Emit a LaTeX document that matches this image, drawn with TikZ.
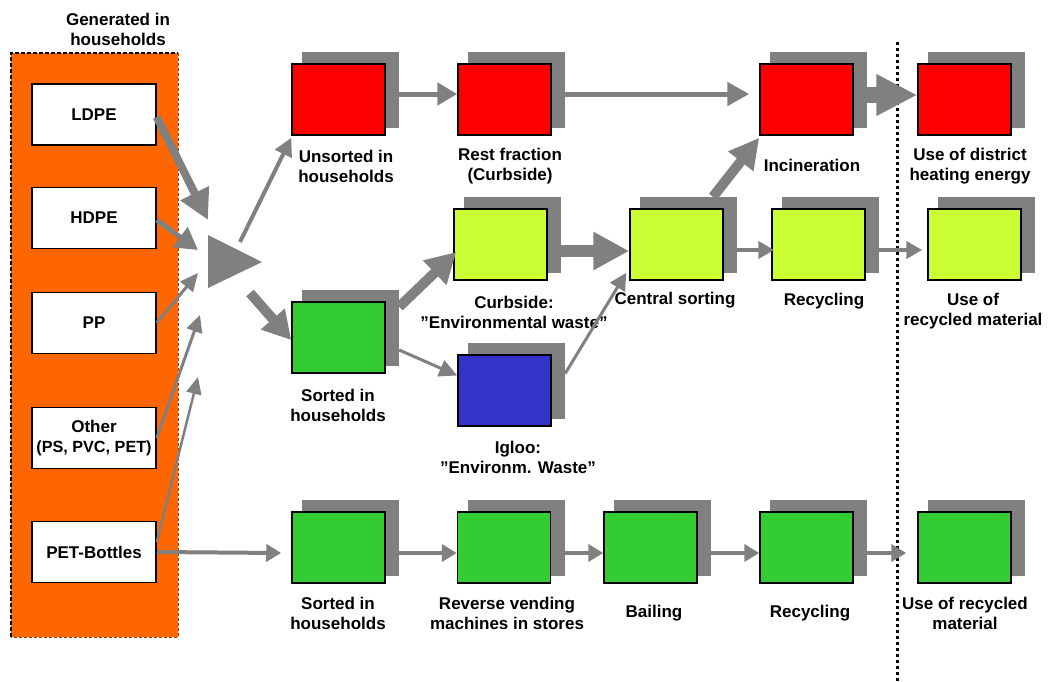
\documentclass[tikz,border=0pt]{standalone}
\usepackage{fontspec}
\setmainfont{Liberation Sans}
\usetikzlibrary{arrows.meta}
\definecolor{orng}{HTML}{FF6600}
\definecolor{shd}{HTML}{808080}
\definecolor{redc}{HTML}{FF0000}
\definecolor{yelc}{HTML}{CCFF33}
\definecolor{grnc}{HTML}{33CC33}
\definecolor{bluc}{HTML}{3333CC}
\newcommand\procbox[4]{%
  \node[sbox] (#1s) at (#2+12,#3-9.5) {};
  \node[pbox,fill=#4] (#1) at (#2,#3) {};}
\begin{document}
\begin{tikzpicture}[x=1pt,y=-1pt,
  font=\bfseries\fontsize{17}{20}\selectfont,
  pbox/.style={draw=black,line width=1.5pt,minimum width=93pt,minimum height=71pt,inner sep=0pt},
  sbox/.style={fill=shd,minimum width=97pt,minimum height=76pt,inner sep=0pt},
  wbox/.style={draw=black,line width=1.5pt,fill=white,minimum width=124pt,minimum height=61pt,inner sep=0pt,align=center},
  lbl/.style={align=center,inner sep=0pt},
  flow/.style n args={3}{color=shd,line width=#1,-{Triangle[length=#2,width=#3]}},
  divider/.style={black,line width=3pt,dash pattern=on 3pt off 3pt}
]
\useasboundingbox (0,0) rectangle (1049,681);

% orange panel
\fill[orng] (11,53) rectangle (178,637);
\draw[black,line width=2.5pt,dash pattern=on 4pt off 2pt] (11,637) -- (11,53) -- (178,53);
\draw[orng!60!black,line width=0.8pt,dash pattern=on 3pt off 2pt] (178,53) -- (178,637) -- (11,637);
\node[lbl] (gen) at (118,29) {Generated in\\households};

\node[wbox] (ld) at (94,114.5) {LDPE};
\node[wbox] (hd) at (94,218) {HDPE};
\node[wbox] (pp) at (94,323) {PP};
\node[wbox] (ot) at (94,438) {Other\\\makebox[118pt]{\fontsize{16.2}{20}\selectfont(PS, PVC, PET)}};
\node[wbox] (pb) at (94,552) {PET-Bottles};

% merge triangle
\fill[shd] (208,235) -- (208,288) -- (262,262) -- cycle;
\coordinate (in1) at (208,220);
\coordinate (in2) at (198,250);
\coordinate (in3) at (198,273);
\coordinate (in4) at (200,315);
\coordinate (in5) at (198,377);
\coordinate (out1) at (240,242);
\coordinate (out2) at (250,293);

% divider
\coordinate (dtop) at (897,42);
\coordinate (dbot) at (897,681);
\draw[divider] (dtop) -- (dbot);

% row 1
\procbox{us}{338.5}{99.5}{redc}
\procbox{rf}{504.5}{99.5}{redc}
\procbox{inc}{806.5}{99.5}{redc}
\procbox{dh}{964.5}{99.5}{redc}
% row 2
\procbox{cs}{500.5}{244.5}{yelc}
\procbox{ce}{676.5}{244.5}{yelc}
\procbox{rc}{818.5}{244.5}{yelc}
\procbox{ur}{974.5}{244.5}{yelc}
\procbox{sg}{338.5}{337.5}{grnc}
\procbox{ig}{504.5}{390.5}{bluc}
% row 3
\procbox{sth}{338.5}{547.5}{grnc}
\procbox{rv}{504}{547.5}{grnc}
\procbox{bl}{650.5}{547.5}{grnc}
\procbox{rt}{806.5}{547.5}{grnc}
\procbox{ut}{964.5}{547.5}{grnc}

% labels
\node[lbl] (l-us) at (346,166) {Unsorted in\\households};
\node[lbl] (l-rf) at (510,166) {Rest fraction\\(Curbside)};
\node[lbl] (l-inc) at (812,165) {Incineration};
\node[lbl] (l-dh) at (970,166) {Use of district\\heating energy};
\node[lbl] (l-cs) at (514,312) {Curbside:\\”Environmental waste”};
\node[lbl] (l-ce) at (675,300) {Central sorting};
\node[lbl] (l-rc) at (824,301) {Recycling};
\node[lbl] (l-ur) at (973,311) {Use of\\recycled material};
\node[lbl] (l-sg) at (338,405) {Sorted in\\households};
\node[lbl] (l-ig) at (518,457) {Igloo:\\”Environm. Waste”};
\node[lbl] (l-sth) at (338,613) {Sorted in\\households};
\node[lbl] (l-rv) at (507,613) {Reverse vending\\machines in stores};
\node[lbl] (l-bl) at (654,613) {Bailing};
\node[lbl] (l-rt) at (810,613) {Recycling};
\node[lbl] (l-ut) at (965,613) {Use of recycled\\material};

% inputs to merge
\draw[flow={8pt}{30pt}{30pt}] ([yshift=-2.5pt]ld.east) -- (in1);
\draw[flow={5pt}{22pt}{24pt}] ([yshift=-2pt]hd.east) -- (in2);
\draw[flow={3pt}{18pt}{16pt}] (pp.east) -- (in3);
\draw[flow={3pt}{17pt}{16pt}] (ot.east) -- (in4);
\draw[flow={2.5pt}{17pt}{15pt}] ([yshift=10pt]pb.east) -- (in5);

% outputs of merge
\draw[flow={4pt}{18pt}{18pt}] (out1) -- ([yshift=-2pt]us.south west);
\draw[flow={10pt}{28pt}{30pt}] (out2) -- ([yshift=-2.5pt]sg.west);

% row 1 flows
\draw[flow={5pt}{20pt}{22pt}] ([yshift=-4pt]uss.east) -- ([yshift=5.5pt]rf.west);
\draw[flow={5pt}{22pt}{23pt}] ([yshift=-4pt]rfs.east) -- ([xshift=-10pt,yshift=5.5pt]inc.west);
\draw[flow={16pt}{41pt}{39pt}] ([yshift=-5pt]incs.east) -- ([yshift=4.5pt]dh.west);

% row 2 flows
\draw[flow={10pt}{30pt}{32pt}] ([yshift=-17pt]sgs.north east) -- ([xshift=3pt,yshift=-7.5pt]cs.west);
\draw[flow={3pt}{18pt}{17pt}] ([yshift=-22pt]sgs.east) -- ([yshift=15pt]ig.west);
\draw[flow={3pt}{17pt}{17pt}] ([yshift=7.5pt]igs.east) -- ([xshift=-3pt,yshift=8pt]ce.south west);
\draw[flow={12pt}{36pt}{36pt}] ([yshift=-16pt]css.east) -- ([yshift=-6.5pt]ce.west);
\draw[flow={10pt}{30pt}{30pt}] ([xshift=24.5pt]ces.north) -- ([yshift=-2pt]inc.south west);
\draw[flow={4pt}{16pt}{17pt}] ([yshift=-15pt]ces.east) -- ([xshift=3pt,yshift=-5.5pt]rc.west);
\draw[flow={4pt}{16pt}{17pt}] ([yshift=-15pt]rcs.east) -- ([xshift=-5pt,yshift=-5.5pt]ur.west);

% row 3 flows
\draw[flow={4pt}{15pt}{17pt}] (pb.east) -- ([xshift=-10pt,yshift=-5.5pt]sth.west);
\draw[flow={4pt}{15pt}{17pt}] ([yshift=-15pt]sths.east) -- ([yshift=-5.5pt]rv.west);
\draw[flow={4pt}{15pt}{17pt}] ([yshift=-15pt]rvs.east) -- ([yshift=-5.5pt]bl.west);
\draw[flow={4pt}{15pt}{17pt}] ([yshift=-15pt]bls.east) -- ([yshift=-5.5pt]rt.west);
\draw[flow={4pt}{15pt}{17pt}] ([yshift=-15pt]rts.east) -- ([xshift=-11pt,yshift=-5.5pt]ut.west);
\end{tikzpicture}
\end{document}
